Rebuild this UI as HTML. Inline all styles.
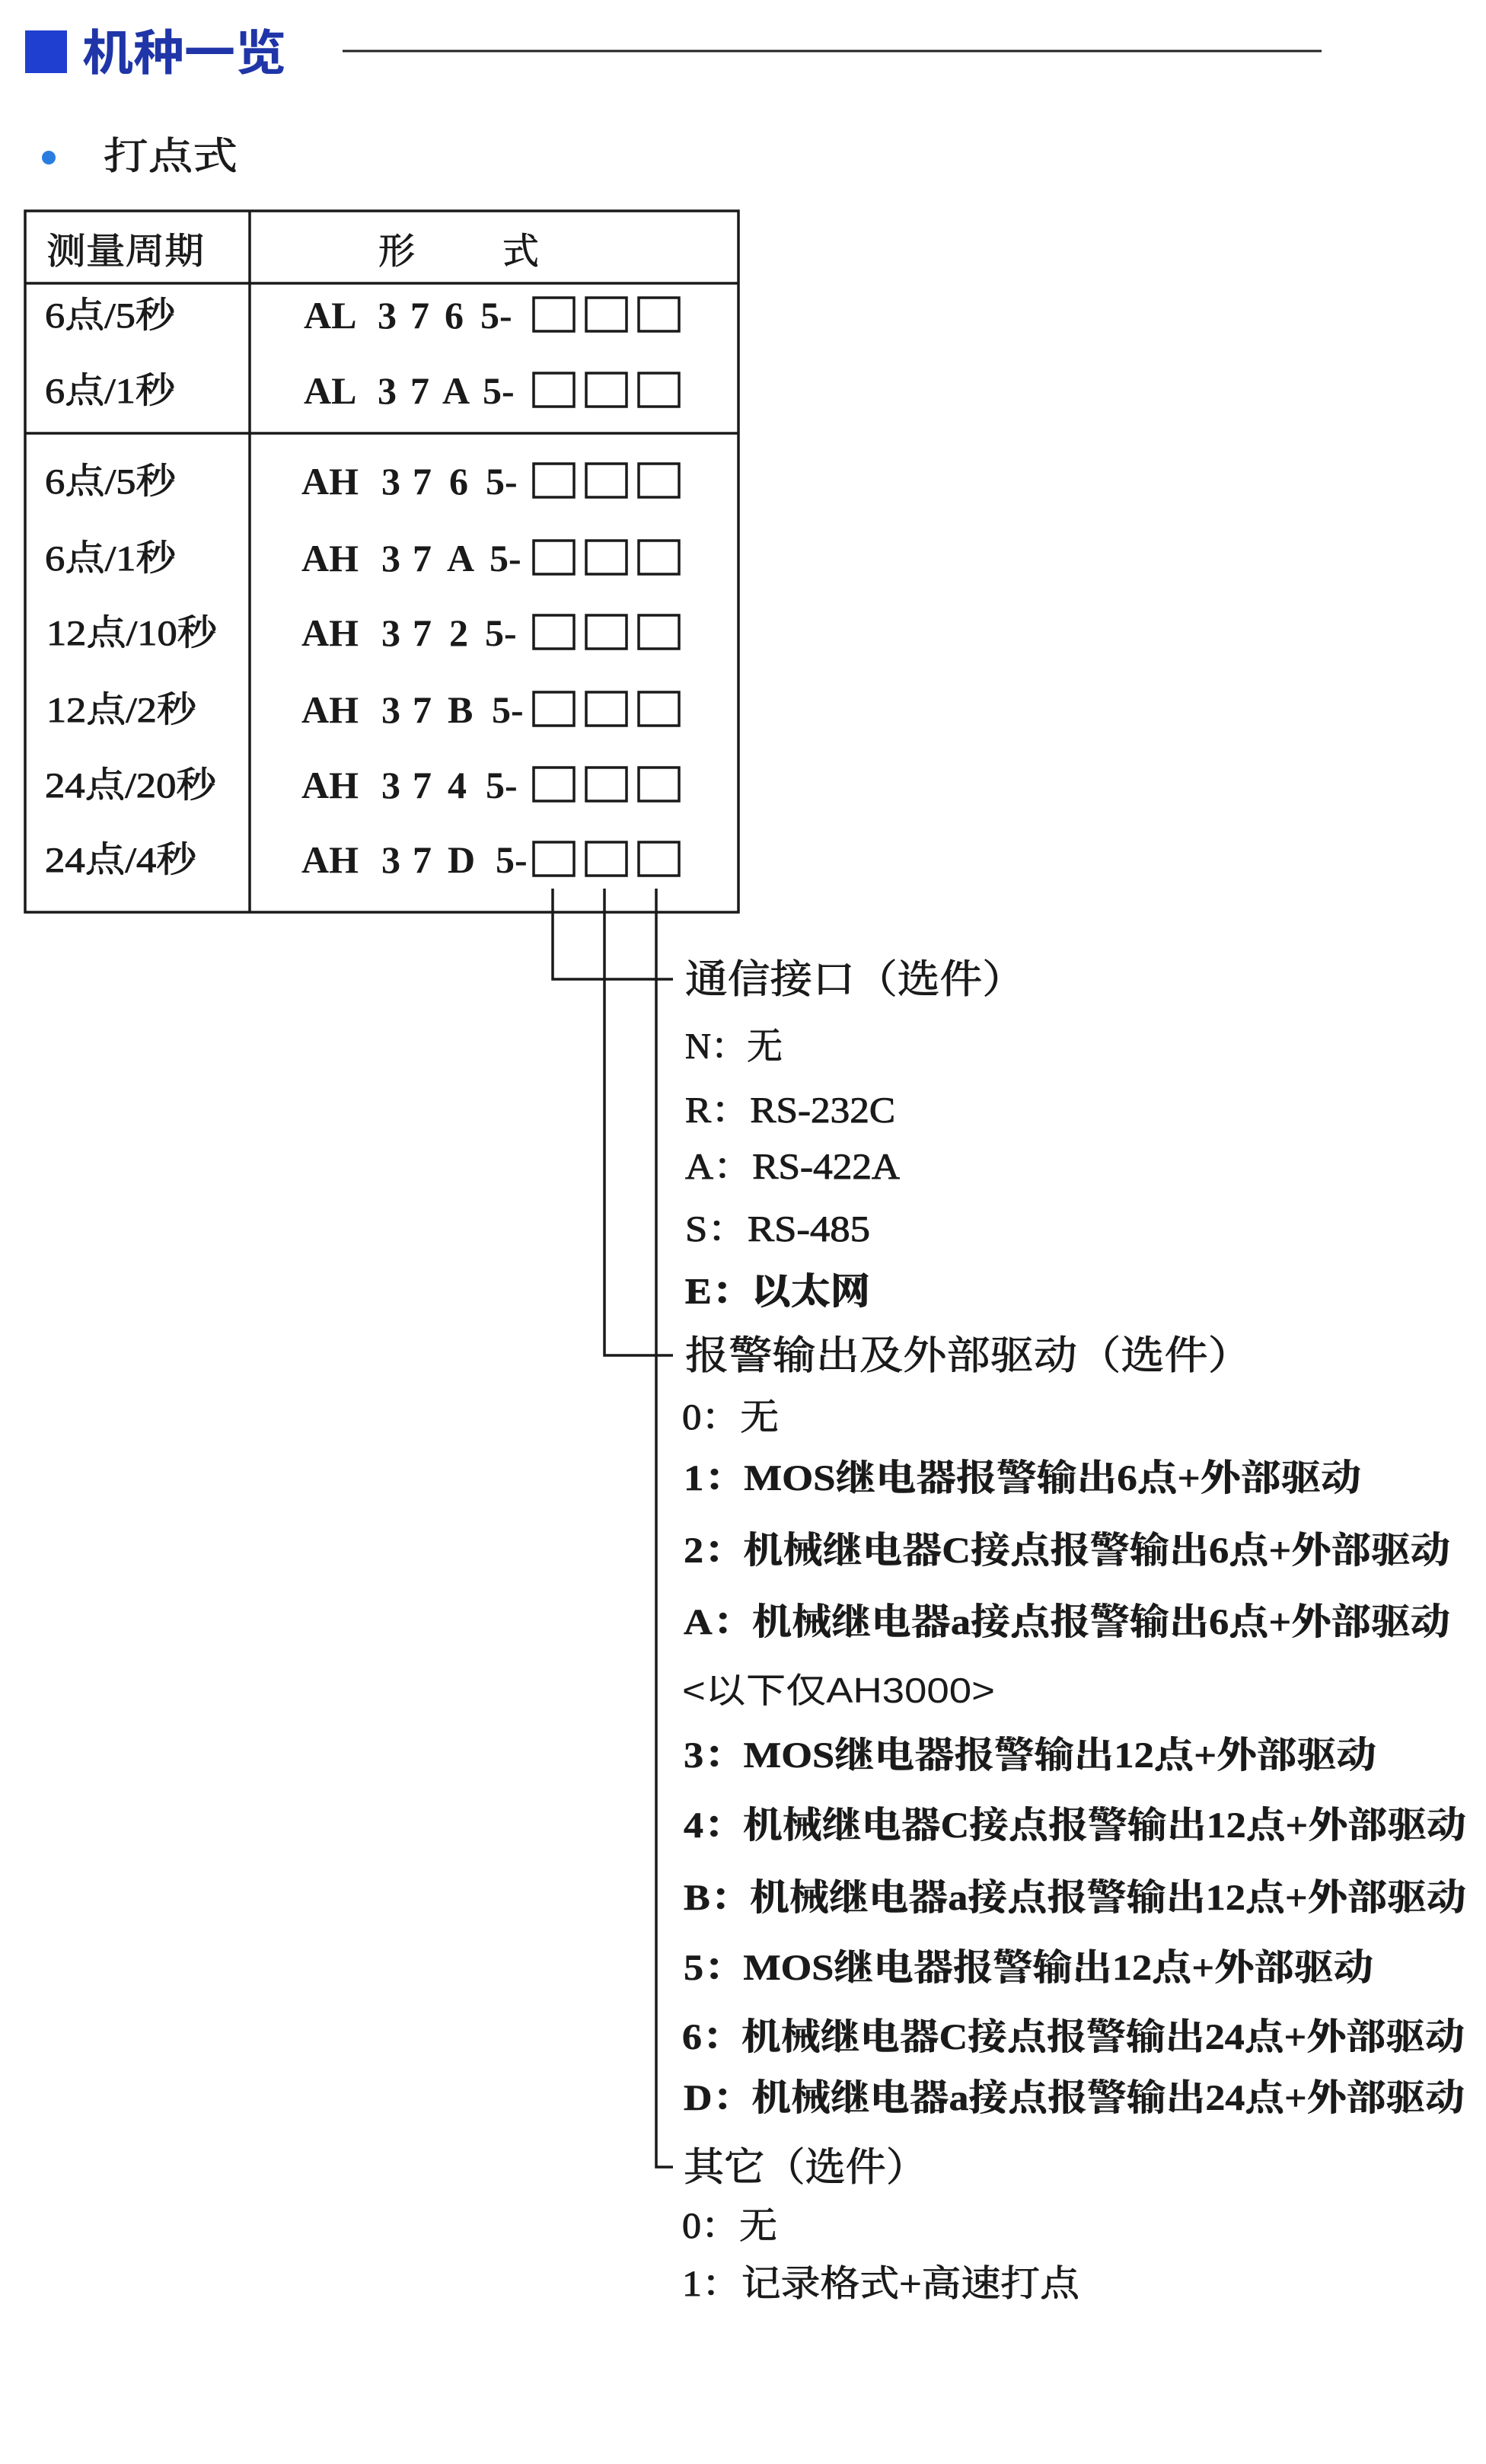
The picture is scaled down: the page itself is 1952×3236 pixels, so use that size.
<!DOCTYPE html>
<html><head><meta charset="utf-8"><style>
html,body{margin:0;padding:0;background:#fff;}
svg{display:block}
.s{font-family:"Liberation Serif","Noto Serif CJK SC",serif;fill:#1a1a1a}
.k{stroke:#1a1a1a;stroke-width:0.9}
.b{font-weight:bold}
.ss{font-family:"Liberation Sans","Noto Sans CJK SC",sans-serif;fill:#1a1a1a}
</style></head><body>
<svg width="1952" height="3236" viewBox="0 0 1952 3236" xmlns="http://www.w3.org/2000/svg">
<rect width="1952" height="3236" fill="#fff"/>
<rect x="33" y="40" width="55" height="56" fill="#1f3fd0"/>
<text x="108" y="92" font-size="64" font-weight="bold" fill="#1f35a8" font-family="Liberation Sans,'Noto Sans CJK SC',sans-serif" textLength="268" lengthAdjust="spacingAndGlyphs">机种一览</text>
<line x1="450" y1="67" x2="1736" y2="67" stroke="#222" stroke-width="3"/>
<circle cx="64" cy="207" r="9" fill="#2a7de0"/>
<text x="136" y="222" font-size="50" class="s k" textLength="176" lengthAdjust="spacingAndGlyphs">打点式</text>
<g stroke="#1a1a1a" stroke-width="3.5" fill="none">
<rect x="33" y="277" width="937" height="921"/>
<line x1="328" y1="277" x2="328" y2="1198"/>
<line x1="33" y1="372" x2="970" y2="372"/>
<line x1="33" y1="569" x2="970" y2="569"/>
</g>
<text x="61" y="346" font-size="48" class="s k" textLength="207" lengthAdjust="spacingAndGlyphs">测量周期</text>
<text x="497" y="346" font-size="48" class="s k">形</text>
<text x="660" y="346" font-size="48" class="s k">式</text>
<g class="s k" font-size="47">
<text x="59" y="430" textLength="171" lengthAdjust="spacingAndGlyphs">6点/5秒</text>
<text x="59" y="529" textLength="171" lengthAdjust="spacingAndGlyphs">6点/1秒</text>
<text x="59" y="648" textLength="172" lengthAdjust="spacingAndGlyphs">6点/5秒</text>
<text x="59" y="749" textLength="172" lengthAdjust="spacingAndGlyphs">6点/1秒</text>
<text x="61" y="847" textLength="224" lengthAdjust="spacingAndGlyphs">12点/10秒</text>
<text x="61" y="948" textLength="197" lengthAdjust="spacingAndGlyphs">12点/2秒</text>
<text x="59" y="1047" textLength="225" lengthAdjust="spacingAndGlyphs">24点/20秒</text>
<text x="59" y="1145" textLength="199" lengthAdjust="spacingAndGlyphs">24点/4秒</text>
</g>
<g class="s b" font-size="50">
<text y="431"><tspan x="399">AL</tspan><tspan x="496">3</tspan><tspan x="539">7</tspan><tspan x="584">6</tspan><tspan x="631">5-</tspan></text>
<text y="530"><tspan x="399">AL</tspan><tspan x="496">3</tspan><tspan x="539">7</tspan><tspan x="581">A</tspan><tspan x="634">5-</tspan></text>
<text y="649"><tspan x="396">AH</tspan><tspan x="501">3</tspan><tspan x="542">7</tspan><tspan x="590">6</tspan><tspan x="638">5-</tspan></text>
<text y="750"><tspan x="396">AH</tspan><tspan x="501">3</tspan><tspan x="542">7</tspan><tspan x="587">A</tspan><tspan x="643">5-</tspan></text>
<text y="848"><tspan x="396">AH</tspan><tspan x="501">3</tspan><tspan x="542">7</tspan><tspan x="590">2</tspan><tspan x="637">5-</tspan></text>
<text y="949"><tspan x="396">AH</tspan><tspan x="501">3</tspan><tspan x="542">7</tspan><tspan x="588">B</tspan><tspan x="646">5-</tspan></text>
<text y="1048"><tspan x="396">AH</tspan><tspan x="501">3</tspan><tspan x="542">7</tspan><tspan x="588">4</tspan><tspan x="638">5-</tspan></text>
<text y="1146"><tspan x="396">AH</tspan><tspan x="501">3</tspan><tspan x="542">7</tspan><tspan x="588">D</tspan><tspan x="651">5-</tspan></text>
</g>
<g stroke="#1a1a1a" stroke-width="3.5" fill="none">
<rect x="701" y="391" width="53" height="44"/><rect x="770" y="391" width="53" height="44"/><rect x="839" y="391" width="53" height="44"/>
<rect x="701" y="490" width="53" height="44"/><rect x="770" y="490" width="53" height="44"/><rect x="839" y="490" width="53" height="44"/>
<rect x="701" y="609" width="53" height="44"/><rect x="770" y="609" width="53" height="44"/><rect x="839" y="609" width="53" height="44"/>
<rect x="701" y="710" width="53" height="44"/><rect x="770" y="710" width="53" height="44"/><rect x="839" y="710" width="53" height="44"/>
<rect x="701" y="808" width="53" height="44"/><rect x="770" y="808" width="53" height="44"/><rect x="839" y="808" width="53" height="44"/>
<rect x="701" y="909" width="53" height="44"/><rect x="770" y="909" width="53" height="44"/><rect x="839" y="909" width="53" height="44"/>
<rect x="701" y="1008" width="53" height="44"/><rect x="770" y="1008" width="53" height="44"/><rect x="839" y="1008" width="53" height="44"/>
<rect x="701" y="1106" width="53" height="44"/><rect x="770" y="1106" width="53" height="44"/><rect x="839" y="1106" width="53" height="44"/>
<polyline points="726,1167 726,1286 884,1286"/>
<polyline points="794,1167 794,1780 884,1780"/>
<polyline points="862,1167 862,2846 884,2846"/>
</g>
<g class="s k" font-size="52">
<text x="900" y="1304" textLength="446" lengthAdjust="spacingAndGlyphs">通信接口（选件）</text>
<text x="900" y="1798" textLength="744" lengthAdjust="spacingAndGlyphs">报警输出及外部驱动（选件）</text>
<text x="898" y="2864" textLength="319" lengthAdjust="spacingAndGlyphs">其它（选件）</text>
</g>
<g class="s k" font-size="48">
<text x="900" y="1390" textLength="128" lengthAdjust="spacingAndGlyphs">N：无</text>
<text x="900" y="1474" textLength="276" lengthAdjust="spacingAndGlyphs">R：RS-232C</text>
<text x="900" y="1548" textLength="282" lengthAdjust="spacingAndGlyphs">A：RS-422A</text>
<text x="900" y="1630" textLength="243" lengthAdjust="spacingAndGlyphs">S：RS-485</text>
<text x="900" y="1712" class="b" textLength="243" lengthAdjust="spacingAndGlyphs">E：以太网</text>
<text x="896" y="1877" textLength="127" lengthAdjust="spacingAndGlyphs">0：无</text>
</g>
<g class="s b" font-size="48" stroke="#1a1a1a" stroke-width="0.5">
<text x="898" y="1957" textLength="890" lengthAdjust="spacingAndGlyphs">1：MOS继电器报警输出6点+外部驱动</text>
<text x="898" y="2052" textLength="1007" lengthAdjust="spacingAndGlyphs">2：机械继电器C接点报警输出6点+外部驱动</text>
<text x="898" y="2146" textLength="1007" lengthAdjust="spacingAndGlyphs">A：机械继电器a接点报警输出6点+外部驱动</text>
<text x="898" y="2321" textLength="910" lengthAdjust="spacingAndGlyphs">3：MOS继电器报警输出12点+外部驱动</text>
<text x="898" y="2413" textLength="1028" lengthAdjust="spacingAndGlyphs">4：机械继电器C接点报警输出12点+外部驱动</text>
<text x="898" y="2508" textLength="1028" lengthAdjust="spacingAndGlyphs">B：机械继电器a接点报警输出12点+外部驱动</text>
<text x="898" y="2600" textLength="906" lengthAdjust="spacingAndGlyphs">5：MOS继电器报警输出12点+外部驱动</text>
<text x="896" y="2691" textLength="1028" lengthAdjust="spacingAndGlyphs">6：机械继电器C接点报警输出24点+外部驱动</text>
<text x="898" y="2771" textLength="1026" lengthAdjust="spacingAndGlyphs">D：机械继电器a接点报警输出24点+外部驱动</text>
</g>
<text x="896" y="2236" font-size="46" class="ss" textLength="411" lengthAdjust="spacingAndGlyphs">&lt;以下仅AH3000&gt;</text>
<g class="s k" font-size="48">
<text x="896" y="2939" textLength="125" lengthAdjust="spacingAndGlyphs">0：无</text>
<text x="896" y="3015" textLength="522" lengthAdjust="spacingAndGlyphs">1：记录格式+高速打点</text>
</g>
</svg>
</body></html>
